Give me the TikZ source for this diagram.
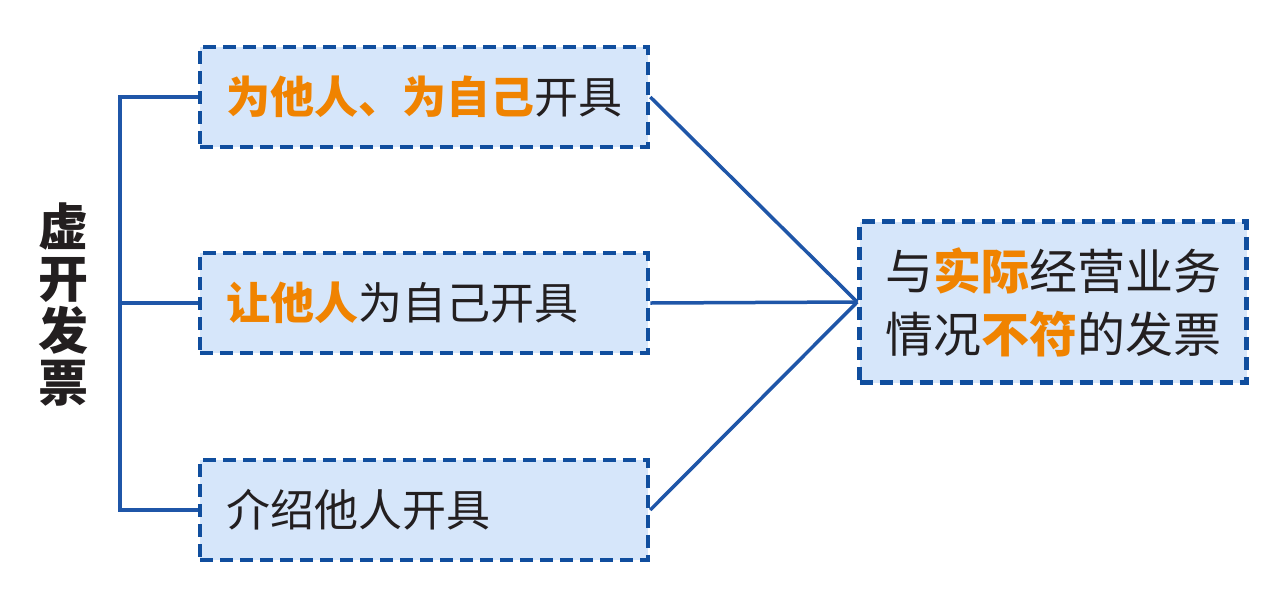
\documentclass[tikz,border=0pt]{standalone}
\usepackage{fontspec}
\setmainfont{Noto Sans CJK SC}
\usetikzlibrary{positioning}
\definecolor{lineblue}{HTML}{1F56A8}
\definecolor{dashblue}{HTML}{104E9E}
\definecolor{boxfill}{HTML}{D6E6FA}
\definecolor{hiorange}{HTML}{F08300}
\definecolor{textdark}{HTML}{231F20}
\newcommand{\hi}[1]{\textcolor{hiorange}{\bfseries #1}}
\tikzset{
  kindbox/.style={draw=dashblue, fill=boxfill, line width=4.5pt, dash pattern=on 13pt off 7pt,
    minimum width=448pt, minimum height=100pt, inner xsep=26pt, text width=396pt, align=left,
    text=textdark, font=\fontsize{44}{52}\selectfont},
  resultbox/.style={draw=dashblue, fill=boxfill, line width=4.5pt, dash pattern=on 13pt off 7pt,
    minimum width=387pt, minimum height=161pt, align=center,
    text=textdark, font=\fontsize{48}{63}\selectfont},
  link/.style={lineblue, line width=3.5pt}
}
\begin{document}
\begin{tikzpicture}[x=1pt,y=-1pt]
\useasboundingbox (0,0) rectangle (1288,606);
% left title
\node[text=textdark, align=center, font=\fontsize{50}{52}\selectfont\bfseries] (title) at (63,305) {虚\\开\\发\\票};
% three kinds
\node[kindbox] (self) at (424,97) {\hi{为他人、为自己}开具};
\node[kindbox] (other) at (424,303) {\hi{让他人}为自己开具};
\node[kindbox] (intro) at (424,510) {介绍他人开具};
% result
\node[resultbox] (result) at (1053,302) {与\hi{实际}经营业务\\情况\hi{不符}的发票};
% bracket
\coordinate (top) at (120,97);
\coordinate (bot) at (120,510);
\draw[link] (self.west) -- (top) -- (bot) -- (intro.west);
\draw[link] (other.west) -- (other.west -| top);
% links to result
\draw[link] (self.east) -- (result.west);
\draw[link] (other.east) -- (result.west);
\draw[link] (intro.east) -- (result.west);
\end{tikzpicture}
\end{document}
